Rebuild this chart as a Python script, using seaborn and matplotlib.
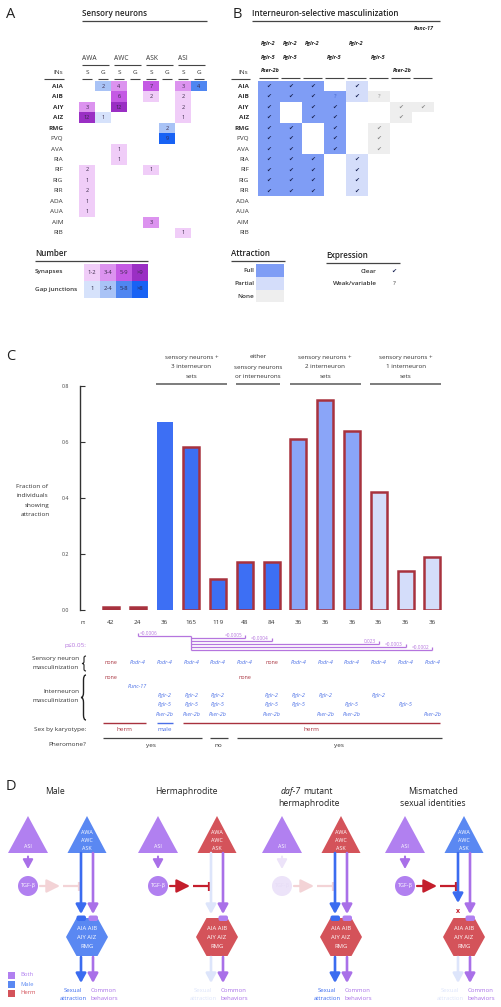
import numpy as np
import pandas as pd
import matplotlib
matplotlib.use('Agg')
import matplotlib.pyplot as plt
import seaborn as sns
from matplotlib.colors import ListedColormap
from matplotlib.patches import Rectangle, Polygon, Circle, FancyBboxPatch, PathPatch
from matplotlib.path import Path

sns.set_style('white')
plt.rcParams['font.family'] = ['Open Sans', 'DejaVu Sans']

W, H = 502, 1007

# ---------------- data ----------------
interneurons = ['AIA', 'AIB', 'AIY', 'AIZ', 'RMG', 'PVQ', 'AVA', 'RIA', 'RIF', 'RIG',
                'RIR', 'ADA', 'AUA', 'AIM', 'RIB']
bold_ins = ['AIA', 'AIB', 'AIY', 'AIZ', 'RMG']
sensory_neurons = ['AWA', 'AWC', 'ASK', 'ASI']
awa_syn = [0, 0, 3, 12, 0, 0, 0, 0, 2, 1, 2, 1, 1, 0, 0]
awa_gap = [2, 0, 0, 1, 0, 0, 0, 0, 0, 0, 0, 0, 0, 0, 0]
awc_syn = [4, 6, 12, 0, 0, 0, 1, 1, 0, 0, 0, 0, 0, 0, 0]
awc_gap = [0, 0, 0, 0, 0, 0, 0, 0, 0, 0, 0, 0, 0, 0, 0]
ask_syn = [7, 2, 0, 0, 0, 0, 0, 0, 1, 0, 0, 0, 0, 3, 0]
ask_gap = [0, 0, 0, 0, 2, 9, 0, 0, 0, 0, 0, 0, 0, 0, 0]
asi_syn = [3, 2, 2, 1, 0, 0, 0, 0, 0, 0, 0, 0, 0, 0, 1]
asi_gap = [4, 0, 0, 0, 0, 0, 0, 0, 0, 0, 0, 0, 0, 0, 0]
syn_bins = ['1-2', '3-4', '5-9', '>9']
gap_bins = ['1', '2-4', '5-8', '>8']

# panel B: F full, P partial, N none, - blank ; c clear, q weak/variable
b_headers = [['Pglr-2', 'Pglr-5', 'Pser-2b'], ['Pglr-2', 'Pglr-5'], ['Pglr-2'], ['Pglr-5'],
             ['Pglr-2'], ['Pglr-5'], ['Pser-2b'], ['Punc-17']]
b_attraction = ['FFF-P---', 'FFFFPN--', 'F-FF--NN', 'F-FF--N-', 'FF-F-N--', 'FF-F-N--',
                'FF-F-N--', 'FFF-P---', 'FFF-P---', 'FFF-P---', 'FFF-P---',
                '--------', '--------', '--------', '--------']
b_expression = ['ccc-c---', 'cccqcq--', 'c-cc--cc', 'c-cc--c-', 'cc-c-c--', 'cc-c-c--',
                'cc-c-c--', 'ccc-c---', 'ccc-c---', 'ccc-c---', 'ccc-c---',
                '--------', '--------', '--------', '--------']

# panel C
c_n = [42, 24, 36, 165, 119, 48, 84, 36, 36, 36, 36, 36, 36]
c_frac = [0.012, 0.012, 0.67, 0.58, 0.11, 0.17, 0.17, 0.61, 0.75, 0.64, 0.42, 0.14, 0.19]
c_group = ['herm', 'herm', 'male', 'set3', 'set3', 'either', 'either', 'set2', 'set2', 'set2',
           'set1', 'set1', 'set1']
c_sensory = ['none', 'Podr-4', 'Podr-4', 'Podr-4', 'Podr-4', 'Podr-4', 'none', 'Podr-4',
             'Podr-4', 'Podr-4', 'Podr-4', 'Podr-4', 'Podr-4']
c_inter = [['none'], ['Punc-17'], ['Pglr-2', 'Pglr-5', 'Pser-2b'],
           ['Pglr-2', 'Pglr-5', 'Pser-2b'], ['Pglr-2', 'Pglr-5', 'Pser-2b'], ['none'],
           ['Pglr-2', 'Pglr-5', 'Pser-2b'], ['Pglr-2', 'Pglr-5'], ['Pglr-2', 'Pser-2b'],
           ['Pglr-5', 'Pser-2b'], ['Pglr-2'], ['Pglr-5'], ['Pser-2b']]
c_pref = 3
c_ptargets = [1, 5, 6, 10, 11, 12]
c_pvals = ['<0.0006', '<0.0005', '<0.0004', '0.023', '<0.0003', '<0.0002']
c_headers = [(2, 4, ['sensory neurons +', '3 interneuron', 'sets']),
             (5, 6, ['either', 'sensory neurons', 'or interneurons']),
             (7, 9, ['sensory neurons +', '2 interneuron', 'sets']),
             (10, 12, ['sensory neurons +', '1 interneuron', 'sets'])]
c_sex = [(0, 1, 'herm'), (2, 2, 'male'), (3, 12, 'herm')]
c_pheromone = [(0, 3, 'yes'), (4, 4, 'no'), (5, 12, 'yes')]

# ---------------- colours ----------------
syn_colors = ['#f0cdf8', '#dc93ef', '#c45ae4', '#9a2fc4']
gap_colors = ['#d6e2fb', '#a9c3f6', '#4f86f1', '#1862f4']
attr_colors = {'-': '#ffffff', 'N': '#eeeeee', 'P': '#d4ddfa', 'F': '#7f9df5'}
RED = '#a8323e'
BLUE_TXT = '#4a6fe6'
PV = '#b575de'
fills = {'herm': '#a2333f', 'male': '#3d6ff4', 'set3': '#3d6ff4', 'either': '#3d6ff4',
         'set2': '#8aa5f8', 'set1': '#d4ddfa'}
VIO = '#b180f0'
VIOA = '#a970e8'
BLU = '#5a88f2'
BLUA = '#3b6cf0'
REDD = '#d4535a'
REDL = '#c41e2c'
PALE_B = '#dde5fb'
PALE_P = '#f3d3d6'
PALE_V = '#ece3f9'

fig = plt.figure(figsize=(W / 100, H / 100), dpi=100)


def rect(x0, y0, x1, y1):
    return [x0 / W, 1 - y1 / H, (x1 - x0) / W, (y1 - y0) / H]


cv = fig.add_axes([0, 0, 1, 1])
cv.set_xlim(0, W)
cv.set_ylim(H, 0)
cv.axis('off')
cv.patch.set_visible(False)


def T(x, y, s, size=4.6, ha='center', va='center', color='#222', weight='normal',
      style='normal', ax=None, **kw):
    (ax or cv).text(x, y, s, fontsize=size, ha=ha, va=va, color=color, fontweight=weight,
                    fontstyle=style, clip_on=False, **kw)


def L(x0, x1, y0, y1, color='#444', lw=0.8, ax=None, **kw):
    (ax or cv).plot([x0, x1], [y0, y1], color=color, lw=lw, solid_capstyle='butt',
                    clip_on=False, **kw)


# panel letters
T(11, 14, 'A', size=10.5)
T(237, 14, 'B', size=10.5)
T(11, 357, 'C', size=10.5)
T(11, 786, 'D', size=10.5)

# ---------------- Panel A ----------------
def syn_code(v):
    if v == 0:
        return 0
    return 1 if v <= 2 else 2 if v <= 4 else 3 if v <= 9 else 4


def gap_code(v):
    if v == 0:
        return 0
    return 5 if v == 1 else 6 if v <= 3 else 7 if v <= 8 else 8


pairs = [(awa_syn, awa_gap), (awc_syn, awc_gap), (ask_syn, ask_gap), (asi_syn, asi_gap)]
codeA = np.zeros((15, 8))
annA = np.full((15, 8), '', dtype=object)
for k, (syn, gap) in enumerate(pairs):
    for i in range(15):
        codeA[i, 2 * k] = syn_code(syn[i])
        codeA[i, 2 * k + 1] = gap_code(gap[i])
        annA[i, 2 * k] = str(syn[i]) if syn[i] else ''
        annA[i, 2 * k + 1] = str(gap[i]) if gap[i] else ''
cmapA = ListedColormap(['#ffffff'] + syn_colors + gap_colors)
axA = fig.add_axes(rect(79, 81, 207, 238))
sns.heatmap(codeA, ax=axA, cmap=cmapA, vmin=-0.5, vmax=8.5, cbar=False, annot=annA, fmt='',
            annot_kws=dict(fontsize=4, color='#3a2a4a'), xticklabels=False,
            yticklabels=interneurons, linewidths=0)
axA.tick_params(axis='y', length=0, pad=11.5, labelsize=4.6, labelcolor='#333')
for lb in axA.get_yticklabels():
    lb.set_rotation(0)
    if lb.get_text() in bold_ins:
        lb.set_fontweight('bold')

T(82, 14, 'Sensory neurons', size=5.8, ha='left', weight='semibold')
L(82, 207, 21, 21, lw=0.9)
for k, nm in enumerate(sensory_neurons):
    x0 = 79 + 32 * k
    T(x0 + 3, 59, nm, size=4.8, ha='left', color='#333')
    L(x0 + 3, x0 + 30, 64.5, 64.5, lw=0.8)
    for j, lt in enumerate(['S', 'G']):
        xc = x0 + 8 + 16 * j
        T(xc, 72.5, lt, size=4.6, color='#333')
        L(xc - 5, xc + 5, 79, 79, lw=0.8)
T(63, 72.5, 'INs', size=4.6, ha='right', color='#333')
L(44, 64, 79, 79, lw=0.8)

# legend "Number"
T(35, 253, 'Number', size=5.8, ha='left', weight='semibold')
L(35, 148, 261, 261, lw=0.9)
T(35, 272, 'Synapses', size=4.6, ha='left', weight='semibold', color='#333')
T(35, 289, 'Gap junctions', size=4.6, ha='left', weight='semibold', color='#333')
for i in range(4):
    cv.add_patch(Rectangle((84 + 16 * i, 264), 16, 16.5, color=syn_colors[i], lw=0))
    T(92 + 16 * i, 272, syn_bins[i], size=4.2, color='#3a2a4a')
    cv.add_patch(Rectangle((84 + 16 * i, 280.5), 16, 17, color=gap_colors[i], lw=0))
    T(92 + 16 * i, 289, gap_bins[i], size=4.2, color='#2a2a4a')

# ---------------- Panel B ----------------
amap = {'-': 0, 'N': 1, 'P': 2, 'F': 3}
codeB = np.array([[amap[c] for c in r] for r in b_attraction])
annB = np.array([[{'c': '\u2714', 'q': '?', '-': ''}[c] for c in r] for r in b_expression],
                dtype=object)
cmapB = ListedColormap([attr_colors['-'], attr_colors['N'], attr_colors['P'], attr_colors['F']])
axB = fig.add_axes(rect(258, 81, 434, 238))
sns.heatmap(codeB, ax=axB, cmap=cmapB, vmin=-0.5, vmax=3.5, cbar=False, annot=annB, fmt='',
            annot_kws=dict(fontsize=4.2, color='#1b2556'), xticklabels=False,
            yticklabels=interneurons, linewidths=0)
axB.tick_params(axis='y', length=0, pad=6.5, labelsize=4.6, labelcolor='#333')
for lb in axB.get_yticklabels():
    lb.set_rotation(0)
    if lb.get_text() in bold_ins:
        lb.set_fontweight('bold')
for t in axB.texts:
    x, y = t.get_position()
    a = b_attraction[int(y)][int(x)]
    if a == 'N':
        t.set_color('#8c8c8c')
    elif t.get_text() == '?':
        t.set_color('#4060c8')

T(252, 14, 'Interneuron-selective masculinization', size=5.8, ha='left', weight='semibold')
L(252, 440, 21, 21, lw=0.9)
hdr_y = {'Pglr-2': 43, 'Pglr-5': 57, 'Pser-2b': 71, 'Punc-17': 29}
for j, hs in enumerate(b_headers):
    x0 = 258 + 22 * j
    for h in hs:
        T(x0 + (3 if h != 'Punc-17' else 2), hdr_y[h], h, size=3.9, ha='left', weight='bold',
          style='italic', color='#222')
    L(x0 + 1.5, x0 + 20.5, 77.5, 77.5, lw=0.8)
T(248, 72.5, 'INs', size=4.6, ha='right', color='#333')
L(231, 250, 79, 79, lw=0.8)

# legend attraction
T(231, 253, 'Attraction', size=5.8, ha='left', weight='semibold')
L(231, 285, 261, 261, lw=0.9)
for lab, key, y0 in [('Full', 'F', 264), ('Partial', 'P', 277), ('None', 'N', 289.5)]:
    cv.add_patch(Rectangle((256, y0), 28, 12.5, color=attr_colors[key], lw=0))
    T(254, y0 + 6.5, lab, size=4.6, ha='right', weight='semibold', color='#333')
T(326, 255, 'Expression', size=5.8, ha='left', weight='semibold')
L(326, 400, 262.5, 262.5, lw=0.9)
T(377, 271.5, 'Clear', size=4.6, ha='right', weight='semibold', color='#333')
T(394, 271.5, '\u2714', size=4.4, color='#1b2556')
T(377, 283.5, 'Weak/variable', size=4.6, ha='right', weight='semibold', color='#333')
T(394, 283.5, '?', size=4.6, color='#333')

# ---------------- Panel C ----------------
axC = fig.add_axes(rect(80, 385.7, 445, 610))
axC.patch.set_visible(False)
dfc = pd.DataFrame({'bar': ['b%02d' % i for i in range(13)], 'frac': c_frac,
                    'group': c_group})
pal = {b: fills[g] for b, g in zip(dfc['bar'], dfc['group'])}
sns.barplot(data=dfc, x='bar', y='frac', hue='bar', palette=pal, legend=False, width=0.6,
            saturation=1, errorbar=None, ax=axC)
for p in axC.patches:
    i = int(round(p.get_x() + p.get_width() / 2))
    if c_group[i] == 'male':
        p.set_edgecolor('none')
    else:
        p.set_edgecolor(RED)
        p.set_linewidth(1.8)
axC.set_xlim(-1.158, 12.474)
axC.set_ylim(0, 0.8)
axC.set_xticks([])
axC.set_xlabel('')
axC.set_ylabel('')
sns.despine(ax=axC, bottom=True)
axC.spines['left'].set_color('#333')
axC.spines['left'].set_linewidth(1.0)
axC.set_yticks([0, 0.2, 0.4, 0.6, 0.8])
axC.set_yticklabels(['0.0', '0.2', '0.4', '0.6', '0.8'])
axC.tick_params(axis='y', direction='in', length=3.5, width=0.8, labelsize=3.9, pad=8,
                labelcolor='#444', color='#333', left=True)


def yv(ypx):
    return (610 - ypx) / 224.3 * 0.8


for x0, x1, lines in c_headers:
    xc = (x0 + x1) / 2
    for k, s in enumerate(lines):
        T(xc, yv(357 + 10 * k), s, size=4.5, color='#333', ax=axC)
    L(x0 - 0.32, x1 + 0.33, yv(384), yv(384), color='#666', lw=1.2, ax=axC)

T(48, 486, 'Fraction of', size=4.6, ha='right', color='#333')
T(48, 495.5, 'individuals', size=4.6, ha='right', color='#333')
T(49, 505, 'showing', size=4.6, ha='right', color='#333')
T(50, 514.5, 'attraction', size=4.6, ha='right', color='#333')

T(86, 622, 'n:', size=4.5, ha='right', color='#333')
for i, n in enumerate(c_n):
    T(i, yv(622), str(n), size=4.6, color='#333', ax=axC)

# p-values
T(86, 646, 'p\u22640.05:', size=4.6, ha='right', color=PV)
t0 = c_ptargets[0]
L(t0, c_pref, yv(635.7), yv(635.7), color=PV, lw=0.9, ax=axC)
L(t0, t0, yv(632.5), yv(635.7), color=PV, lw=0.9, ax=axC)
T(t0 + 0.08, yv(633.3), c_pvals[0], size=3.4, ha='left', color=PV, ax=axC)
L(c_pref, c_pref, yv(635.7), yv(650.3), color=PV, lw=0.9, ax=axC)
for k, (tg, pv) in enumerate(zip(c_ptargets[1:], c_pvals[1:])):
    ly = 638.3 + 3.0 * k
    L(c_pref, tg, yv(ly), yv(ly), color=PV, lw=0.9, ax=axC)
    L(tg, tg, yv(ly - 3.2), yv(ly), color=PV, lw=0.9, ax=axC)
    T(tg - 0.1, yv(ly - 2.6), pv, size=3.4, ha='right', color=PV, ax=axC)

# sensory / interneuron rows
T(79, 658.5, 'Sensory neuron', size=4.6, ha='right', color='#333')
T(79, 667.5, 'masculinization', size=4.6, ha='right', color='#333')
T(79, 691.7, 'Interneuron', size=4.6, ha='right', color='#333')
T(79, 701, 'masculinization', size=4.6, ha='right', color='#333')


def brace(x, y0, y1, w, lw=0.8):
    ym = (y0 + y1) / 2
    h = y1 - y0
    r = min(w, h * 0.12)
    verts = [(x + w, y0), (x + w / 2, y0), (x + w / 2, y0 + r),
             (x + w / 2, ym - r), (x + w / 2, ym), (x, ym),
             (x + w / 2, ym), (x + w / 2, ym + r),
             (x + w / 2, y1 - r), (x + w / 2, y1), (x + w, y1)]
    codes = [Path.MOVETO, Path.CURVE3, Path.CURVE3, Path.LINETO, Path.CURVE3, Path.CURVE3,
             Path.CURVE3, Path.CURVE3, Path.LINETO, Path.CURVE3, Path.CURVE3]
    cv.add_patch(PathPatch(Path(verts, codes), fill=False, lw=lw, color='#222'))


brace(82, 656, 671, 4)
brace(81, 675, 720, 5, lw=1.0)

inter_y = {'none': 677.3, 'Punc-17': 686, 'Pglr-2': 695.7, 'Pglr-5': 704.3, 'Pser-2b': 714}
for i in range(13):
    s = c_sensory[i]
    T(i, yv(662.3), s, size=3.9, color=RED if s == 'none' else BLUE_TXT,
      style='normal' if s == 'none' else 'italic', ax=axC)
    for g in c_inter[i]:
        T(i, yv(inter_y[g]), g, size=3.9, color=RED if g == 'none' else BLUE_TXT,
          style='normal' if g == 'none' else 'italic', ax=axC)

T(86, 729, 'Sex by karyotype:', size=4.6, ha='right', color='#333')
for a, b, s in c_sex:
    col = BLUE_TXT if s == 'male' else RED
    L(a - 0.3, b + 0.3, yv(722.7), yv(722.7), color=col, lw=1.0, ax=axC)
    T((a + b) / 2, yv(729.5), s, size=4.6, color=col, ax=axC)
T(86, 745, 'Pheromone?', size=4.6, ha='right', color='#333')
for a, b, s in c_pheromone:
    L(a - 0.3, b + 0.38, yv(738.3), yv(738.3), color='#444', lw=0.9, ax=axC)
    T((a + b) / 2, yv(745.5), s, size=4.6, color='#333', ax=axC)

# ---------------- Panel D ----------------
def varrow(x, y0, y1, col, lw=1.9):
    cv.annotate('', xy=(x, y1), xytext=(x, y0),
                arrowprops=dict(arrowstyle='-|>,head_length=0.55,head_width=0.3', color=col,
                                lw=lw, shrinkA=0, shrinkB=0, mutation_scale=10))


def circuit(ox, tgf_pale, link_col, sens_col, blue_col, blue_cap, hex_col, out_blue,
            lab_blue, blocked):
    ca = 28 + ox
    cx = 87 + ox
    # ASI
    cv.add_patch(Polygon([(ca, 816), (ca - 20, 853), (ca + 20, 853)], color=VIO, lw=0))
    T(ca, 846, 'ASI', size=3.9, color='white')
    varrow(ca, 856.5, 869, PALE_V if tgf_pale else VIOA, lw=1.5)
    cv.add_patch(Circle((ca, 886), 10, color=PALE_V if tgf_pale else VIO, lw=0))
    T(ca, 886, 'TGF-\u03b2', size=3.9, color='#e6dcf5' if tgf_pale else 'white')
    # inhibitory link
    cv.annotate('', xy=(ca + 32, 886), xytext=(ca + 12, 886),
                arrowprops=dict(arrowstyle='-|>,head_length=0.8,head_width=0.4',
                                color=link_col, lw=1.6, shrinkA=0, shrinkB=0,
                                mutation_scale=10))
    L(ca + 35, ca + 51, 886, 886, color=link_col, lw=1.6)
    L(ca + 51, ca + 51, 881.5, 890.5, color=link_col, lw=1.6)
    # sensory triangle
    cv.add_patch(Polygon([(cx, 816), (cx - 19.5, 853), (cx + 19.5, 853)], color=sens_col,
                         lw=0))
    for k, s in enumerate(['AWA', 'AWC', 'ASK']):
        T(cx, 833 + 8 * k, s, size=3.9, color='white')
    # arrows to interneurons
    varrow(cx - 6, 853, 903 if blocked else 914, blue_col)
    varrow(cx + 6, 853, 914, VIOA)
    if blocked:
        T(cx - 6, 911.5, 'x', size=5, color=REDL, weight='bold')
    # hexagon
    cv.add_patch(Polygon([(cx - 21, 937), (cx - 10.5, 918), (cx + 10.5, 918), (cx + 21, 937),
                          (cx + 10.5, 956), (cx - 10.5, 956)], color=hex_col, lw=0))
    if blue_cap:
        cv.add_patch(FancyBboxPatch((cx - 10.5, 915.5), 9.5, 5.5,
                                    boxstyle='round,pad=0,rounding_size=2', color=BLUA, lw=0))
    cv.add_patch(FancyBboxPatch((cx + 1.5, 915.5), 9.5, 5.5,
                                boxstyle='round,pad=0,rounding_size=2', color=VIO, lw=0))
    T(cx, 929, 'AIA AIB', size=4.2, color='white')
    T(cx, 937.5, 'AIY AIZ', size=4.2, color='white')
    T(cx, 946, 'RMG', size=4.2, color='white')
    varrow(cx - 6, 957, 983, out_blue)
    varrow(cx + 6, 957, 983, VIOA)
    T(cx - 14, 990, 'Sexual', size=4.3, color=lab_blue)
    T(cx - 14, 998.5, 'attraction', size=4.3, color=lab_blue)
    T(cx + 17, 990, 'Common', size=4.3, color=VIOA)
    T(cx + 17, 998.5, 'behaviors', size=4.3, color=VIOA)


circuit(0, False, PALE_P, BLU, BLUA, True, BLU, BLUA, BLUA, False)
circuit(130, False, REDL, REDD, PALE_B, False, REDD, PALE_B, PALE_B, False)
circuit(254, True, PALE_P, REDD, BLUA, True, REDD, BLUA, BLUA, False)
circuit(377, False, REDL, BLU, BLUA, False, REDD, PALE_B, PALE_B, True)

T(55, 792, 'Male', size=6.2, color='#222')
T(186, 792, 'Hermaphrodite', size=6.2, color='#222')
T(301, 792, 'daf-7', size=6.2, ha='right', style='italic', color='#222')
T(303, 792, 'mutant', size=6.2, ha='left', color='#222')
T(309, 803, 'hermaphrodite', size=6.2, color='#222')
T(433, 792, 'Mismatched', size=6.2, color='#222')
T(433, 803, 'sexual identities', size=6.2, color='#222')

for k, (lab, col) in enumerate([('Both', VIO), ('Male', BLU), ('Herm', REDD)]):
    cv.add_patch(Rectangle((8, 971.5 + 9 * k), 7, 7, color=col, lw=0))
    T(20, 975 + 9 * k, lab, size=4.2, ha='left', color=col)

fig.savefig('out.png', dpi=100)
